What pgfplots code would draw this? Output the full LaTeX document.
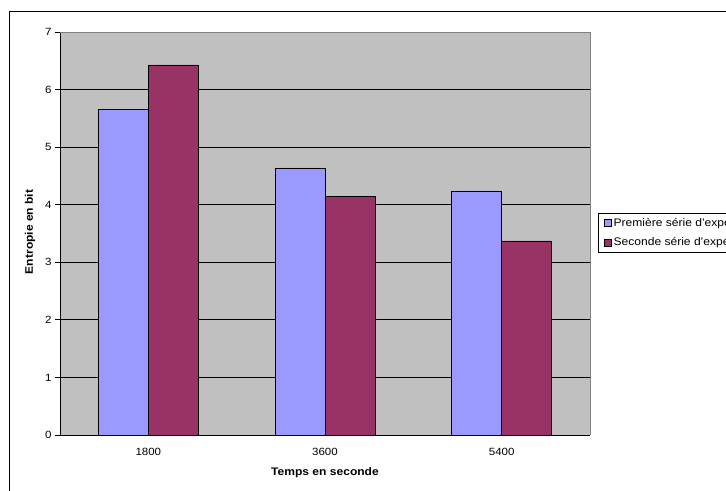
\documentclass[border=0pt]{standalone}
\usepackage{pgfplots}
\pgfplotsset{compat=1.18}
\usepackage{fontspec}
\setmainfont{Liberation Sans}[FakeStretch=1.1]
\definecolor{serA}{HTML}{9999FF}
\definecolor{serB}{HTML}{993366}
\definecolor{plotbg}{HTML}{C0C0C0}
\definecolor{frame}{HTML}{808080}
\begin{document}
\begin{tikzpicture}
\path[use as bounding box] (0,0) rectangle (726bp,491bp);
\clip (0,0) rectangle (726bp,491bp);
\fill[white] (0,0) rectangle (726bp,491bp);
\draw[black, line width=0.8bp] (9bp,-20bp) -- (9bp,480bp) -- (900bp,480bp);
\begin{axis}[
  at={(60bp,56bp)}, anchor=south west,
  scale only axis, width=530bp, height=403bp,
  ybar=0pt, bar width=50bp,
  xmin=-0.5, xmax=2.5, ymin=0, ymax=7,
  ytick={0,1,...,7},
  xtick={0,1,2}, xticklabels={1800,3600,5400},
  x tick style={draw=none},
  extra x ticks={-0.5,0.5,1.5,2.5}, extra x tick labels={},
  extra x tick style={major tick length=5bp, tick style={draw=black, line width=0.8bp}, grid=none},
  y tick style={draw=black, line width=0.8bp},
  major tick length=5bp,
  tick align=outside,
  axis x line*=bottom, axis y line*=left,
  axis line style={black, line width=0.8bp, -},
  ymajorgrids, major grid style={black, line width=0.8bp},
  axis background/.style={fill=plotbg},
  font=\fontsize{10.5}{12}\selectfont,
  ticklabel style={font=\fontsize{10.5}{12}\selectfont},
  /pgf/number format/assume math mode=true,
  xticklabel style={yshift=-5bp},
  xlabel={\textbf{Temps en seconde}},
  ylabel={\textbf{Entropie en bit}},
  xlabel style={at={(axis description cs:0.5,-0.094)}, anchor=center, font=\fontsize{11}{13}\selectfont},
  ylabel style={at={(axis description cs:-0.0566,0.504)}, anchor=center, rotate=0, font=\fontsize{11}{13}\selectfont},
  legend style={at={(axis description cs:1.015,0.5025)}, anchor=west, draw=black, fill=white,
    font=\fontsize{11}{13}\selectfont, row sep=6bp, inner xsep=6bp, inner ysep=3bp, cells={anchor=west}},
  legend image code/.code={\draw[#1,draw=black,line width=0.5bp] (0bp,-3.5bp) rectangle (7bp,3.5bp);},
  after end axis/.code={
    \draw[frame, line width=0.8bp] (rel axis cs:0,1) -- (rel axis cs:1,1) -- (rel axis cs:1,0);
  },
  clip=false,
]
\addplot[fill=serA, draw=black, line width=0.6bp] coordinates {(0,5.66) (1,4.64) (2,4.24)};
\addplot[fill=serB, draw=black, line width=0.6bp] coordinates {(0,6.43) (1,4.15) (2,3.37)};
\legend{Première série d'expérience, Seconde série d'expérience}
\end{axis}
\end{tikzpicture}
\end{document}
